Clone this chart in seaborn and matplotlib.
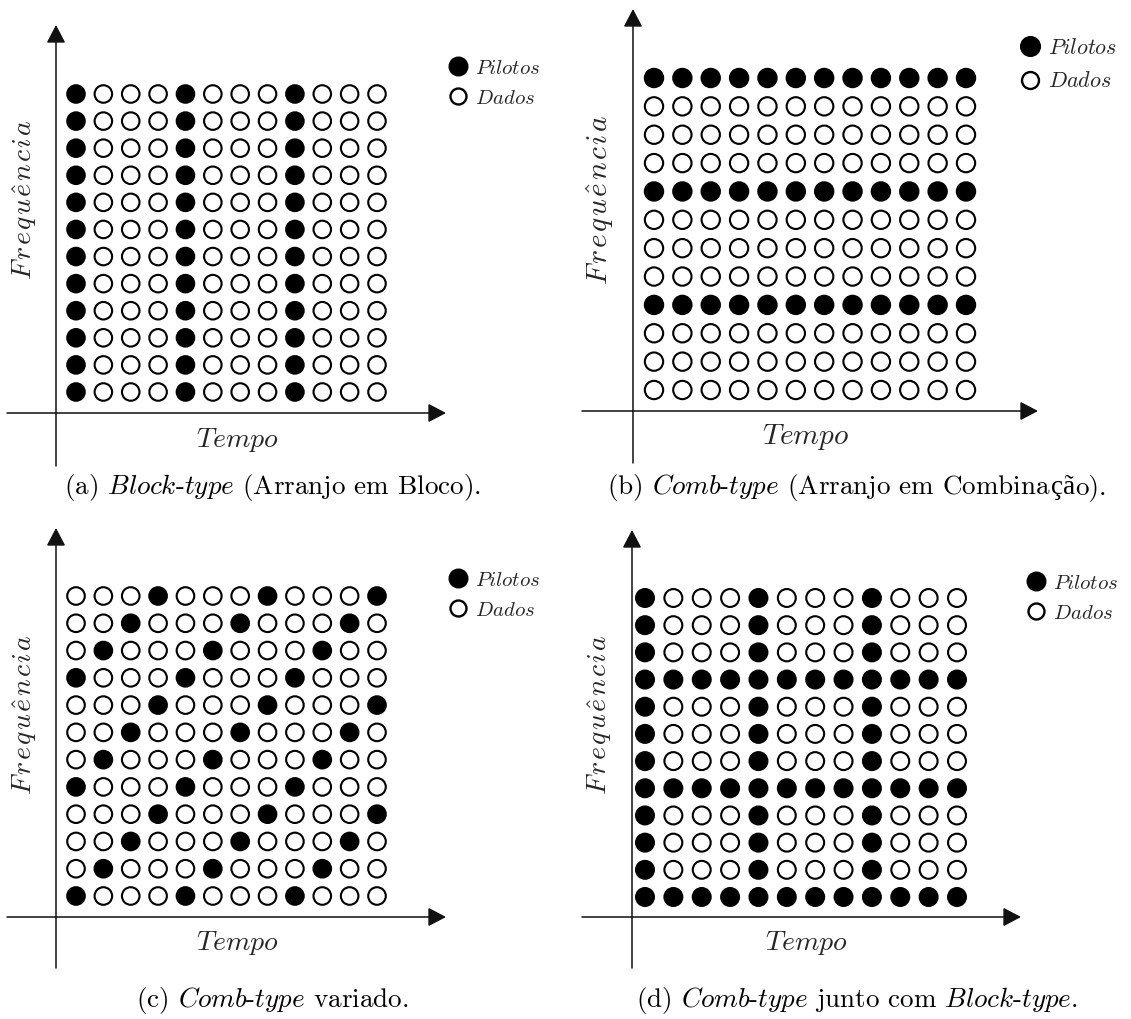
import matplotlib
matplotlib.use("Agg")
import matplotlib.pyplot as plt
from matplotlib.lines import Line2D
from matplotlib.offsetbox import TextArea, HPacker, AnnotationBbox
import seaborn as sns
import pandas as pd

# ---------------- data (rows listed top -> bottom, 'P' = pilot, '.' = data) ----
grid_a = [
    "P...P...P...",
    "P...P...P...",
    "P...P...P...",
    "P...P...P...",
    "P...P...P...",
    "P...P...P...",
    "P...P...P...",
    "P...P...P...",
    "P...P...P...",
    "P...P...P...",
    "P...P...P...",
    "P...P...P...",
]
grid_b = [
    "PPPPPPPPPPPP",
    "............",
    "............",
    "............",
    "PPPPPPPPPPPP",
    "............",
    "............",
    "............",
    "PPPPPPPPPPPP",
    "............",
    "............",
    "............",
]
grid_c = [
    "...P...P...P",
    "..P...P...P.",
    ".P...P...P..",
    "P...P...P...",
    "...P...P...P",
    "..P...P...P.",
    ".P...P...P..",
    "P...P...P...",
    "...P...P...P",
    "..P...P...P.",
    ".P...P...P..",
    "P...P...P...",
]
grid_d = [
    "P...P...P...",
    "P...P...P...",
    "P...P...P...",
    "PPPPPPPPPPPP",
    "P...P...P...",
    "P...P...P...",
    "P...P...P...",
    "PPPPPPPPPPPP",
    "P...P...P...",
    "P...P...P...",
    "P...P...P...",
    "PPPPPPPPPPPP",
]
captions = [
    r"(a) $\mathit{Block}$-$\mathit{type}$ (Arranjo em Bloco).",
    r"(b) $\mathit{Comb}$-$\mathit{type}$ (Arranjo em Combinação).",
    r"(c) $\mathit{Comb}$-$\mathit{type}$ variado.",
    r"(d) $\mathit{Comb}$-$\mathit{type}$ junto com $\mathit{Block}$-$\mathit{type}$.",
]
xlabel = "Tempo"
ylabel = "Frequência"
legend_labels = ["Pilotos", "Dados"]

# ---------------- style ----------------
sns.set_theme(style="white")
plt.rcParams["font.family"] = ["cmr10", "DejaVu Serif"]
plt.rcParams["mathtext.fontset"] = "cm"
plt.rcParams["axes.unicode_minus"] = False
plt.rcParams["axes.formatter.use_mathtext"] = True

W, H = 1131, 1019
fig = plt.figure(figsize=(W / 100, H / 100), dpi=100)
fig.patch.set_facecolor("white")

CAP_FS = 19.5
LEFT_C, RIGHT_C = 272, 857

# layout in pixels (top-left origin)
layouts = [
    dict(ox=56, oy=413, xtip=446, ytip=25, xleft=7, ybot=466, c0=76, c11=377, r0=392, r11=94,
         ylab=(25, 200), xlab=(237, 440), leg=(450, 59), cap=(LEFT_C, 488), k=1.0, ls=0.55),
    dict(ox=633, oy=411, xtip=1038, ytip=9, xleft=582, ybot=463, c0=654, c11=966, r0=390, r11=78,
         ylab=(600, 200), xlab=(806, 437), leg=(1021, 38), cap=(RIGHT_C, 488), k=1.06, ls=0.6),
    dict(ox=56, oy=917, xtip=446, ytip=528, xleft=7, ybot=968, c0=76, c11=377, r0=896, r11=596,
         ylab=(25, 715), xlab=(237, 943), leg=(450, 571), cap=(LEFT_C, 1000), k=1.0, ls=0.55),
    dict(ox=632, oy=917, xtip=1021, ytip=530, xleft=582, ybot=968, c0=645, c11=957, r0=897, r11=598,
         ylab=(600, 715), xlab=(806, 943), leg=(1028, 574), cap=(RIGHT_C, 1000), k=1.0, ls=0.55),
]
grids = [grid_a, grid_b, grid_c, grid_d]


def to_df(grid):
    n = len(grid)
    recs = []
    for i, row in enumerate(grid):
        for j, ch in enumerate(row):
            recs.append(dict(tempo=j, freq=n - 1 - i,
                             tipo="Pilotos" if ch == "P" else "Dados"))
    return pd.DataFrame(recs)


def math_it(word, spaced=False):
    out = []
    for ch in word:
        if ch == "ê":
            out.append(r"\hat{e}")
        else:
            out.append(ch)
    sep = r"\hspace{0.1}" if spaced else ""
    return "$" + sep.join(out) + "$"


SPECIAL = set("çã")


def caption_box(text, fs):
    # split into runs: characters missing from cmr10 use a fallback serif font
    runs = []
    cur = ""
    for ch in text:
        if ch in SPECIAL:
            if cur:
                runs.append((cur, False))
                cur = ""
            runs.append((ch, True))
        else:
            cur += ch
    if cur:
        runs.append((cur, False))
    children = []
    for s, special in runs:
        props = dict(fontsize=fs, color="black")
        if special:
            props["fontfamily"] = "Liberation Serif"
        children.append(TextArea(s, textprops=props))
    return HPacker(children=children, align="baseline", pad=0, sep=0)


for grid, L, cap in zip(grids, layouts, captions):
    df = to_df(grid)
    ncol = len(grid[0])
    nrow = len(grid)
    k = L["k"]
    left = L["ox"] / W
    bottom = 1 - L["oy"] / H
    width = (L["xtip"] - L["ox"]) / W
    height = (L["oy"] - L["ytip"]) / H
    ax = fig.add_axes([left, bottom, width, height])
    sx = (L["c11"] - L["c0"]) / (ncol - 1)
    sy = (L["r0"] - L["r11"]) / (nrow - 1)
    diam_px = 0.72 * (sx + sy) / 2
    lw_px = 2.1
    s_pt = (diam_px - lw_px) * 0.72
    sns.scatterplot(data=df, x="tempo", y="freq", hue="tipo",
                    hue_order=["Pilotos", "Dados"],
                    palette={"Pilotos": "black", "Dados": "white"},
                    edgecolor="black", linewidth=lw_px * 0.72, s=s_pt ** 2,
                    legend=False, ax=ax, clip_on=False, zorder=3)
    ax.set_xlim(-(L["c0"] - L["ox"]) / sx, (ncol - 1) + (L["xtip"] - L["c11"]) / sx)
    ax.set_ylim(-(L["oy"] - L["r0"]) / sy, (nrow - 1) + (L["r11"] - L["ytip"]) / sy)
    ax.set_axis_off()
    ax.set_xlabel("")
    ax.set_ylabel("")

    # axis arrows
    ap = dict(arrowstyle="-|>,head_length=1.1,head_width=0.58", color="#111111",
              lw=1.1, shrinkA=0, shrinkB=0, mutation_scale=10)
    xl = (L["xleft"] - L["ox"]) / (L["xtip"] - L["ox"])
    yb = -(L["ybot"] - L["oy"]) / (L["oy"] - L["ytip"])
    ax.annotate("", xy=(1, 0), xytext=(xl, 0), xycoords="axes fraction",
                textcoords="axes fraction", arrowprops=ap, annotation_clip=False)
    ax.annotate("", xy=(0, 1), xytext=(0, yb), xycoords="axes fraction",
                textcoords="axes fraction", arrowprops=ap, annotation_clip=False)

    # labels
    fig.text(L["xlab"][0] / W, 1 - L["xlab"][1] / H, math_it(xlabel), fontsize=20 * k,
             ha="center", va="center")
    fig.text(L["ylab"][0] / W, 1 - L["ylab"][1] / H, math_it(ylabel, spaced=True),
             fontsize=20 * k, ha="center", va="center", rotation=90)
    ab = AnnotationBbox(caption_box(cap, CAP_FS), (L["cap"][0] / W, 1 - L["cap"][1] / H),
                        xycoords="figure fraction", frameon=False,
                        box_alignment=(0.5, 0.5), pad=0)
    fig.add_artist(ab)

    # legend
    handles = [
        Line2D([], [], marker="o", linestyle="", markersize=13 * k,
               markerfacecolor="black", markeredgecolor="black", markeredgewidth=1.4),
        Line2D([], [], marker="o", linestyle="", markersize=11.5 * k,
               markerfacecolor="white", markeredgecolor="black", markeredgewidth=1.7),
    ]
    labels = [r"$\mathit{%s}$" % t for t in legend_labels]
    ax.legend(handles, labels, loc="upper left",
              bbox_to_anchor=(L["leg"][0] / W, 1 - L["leg"][1] / H),
              bbox_transform=fig.transFigure, frameon=False, fontsize=15 * k,
              handlelength=0.8, handletextpad=0.4, borderpad=0, borderaxespad=0,
              labelspacing=L["ls"])

fig.savefig("out.png", dpi=100, facecolor="white")
